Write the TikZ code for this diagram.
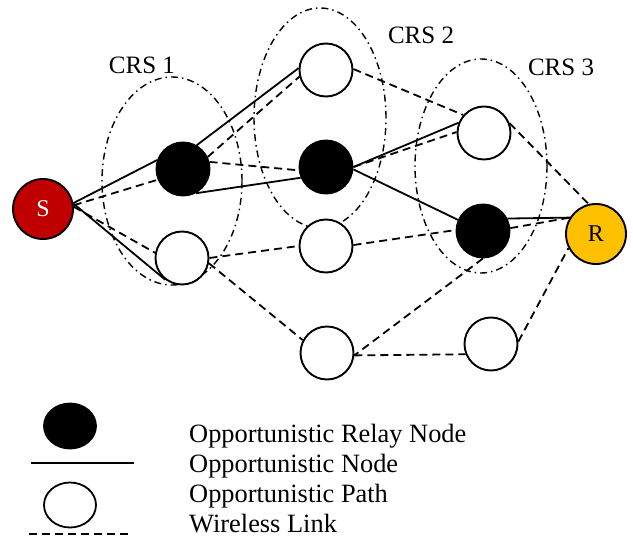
\documentclass[tikz,border=0pt]{standalone}
\usepackage{fontspec}
\setmainfont{Liberation Serif}
\usetikzlibrary{shapes.geometric}
\definecolor{srcred}{RGB}{192,0,0}
\definecolor{dstgold}{RGB}{255,192,0}
\tikzset{
  nd/.style={circle,draw=black,line width=1.9pt,minimum size=53pt,inner sep=0pt},
  relay/.style={nd,fill=black},
  opp/.style={nd,fill=white},
  endpt/.style={nd,minimum size=60pt,font=\fontsize{24}{28}\selectfont},
  solidlink/.style={line width=1.8pt},
  wlink/.style={line width=1.8pt,dash pattern=on 8pt off 5pt},
  crs/.style={line width=1.4pt,dash pattern=on 7pt off 4pt on 1.5pt off 4pt},
  lbl/.style={font=\fontsize{25}{30}\selectfont,anchor=base,inner sep=0pt},
  legtxt/.style={font=\fontsize{26.4}{30}\selectfont,anchor=base west,inner sep=0pt},
  legmark/.style={ellipse,draw=black,line width=1.8pt,minimum width=52pt,minimum height=45pt,inner sep=0pt}
}
\begin{document}
\begin{tikzpicture}[x=1pt,y=-1pt]
\useasboundingbox (0,0) rectangle (633,538);

% cooperative relay sets
\draw[crs] (172,181) ellipse [x radius=70pt, y radius=104pt];
\draw[crs] (320,118) ellipse [x radius=66pt, y radius=110pt];
\draw[crs] (481,166) ellipse [x radius=66pt, y radius=107pt];
\node[lbl] (l1) at (142,73) {CRS 1};
\node[lbl] (l2) at (421,43) {CRS 2};
\node[lbl] (l3) at (561,75) {CRS 3};

% nodes
\node[endpt,fill=srcred,text=white] (S) at (43,209) {S};
\node[endpt,fill=dstgold] (R) at (596,234) {R};
\node[relay] (A1) at (183,169) {};
\node[opp]   (B1) at (182,258) {};
\node[opp]   (C2t) at (326,70) {};
\node[relay] (A2) at (326,167) {};
\node[opp]   (C2m) at (326,246) {};
\node[opp]   (D1) at (327,353) {};
\node[opp]   (C3) at (484,133) {};
\node[relay] (A3) at (483,231) {};
\node[opp]   (D2) at (491,344) {};

% opportunistic paths
\draw[solidlink] (S.11) -- (A1.161);
\draw[solidlink] (A1.60) -- (C2t.176);
\draw[solidlink] (A1.-62) -- (A2.-157);
\draw[solidlink] (S.10) -- (B1.-128);
\draw[solidlink] (A2.0) -- (C3.158);
\draw[solidlink] (A2.-5) -- (A3.156);
\draw[solidlink] (A3.27) -- (R.148);

% wireless links
\draw[wlink] (S.7) -- (A1.-157);
\draw[wlink] (S.4) -- (B1.169);
\draw[wlink] (A1.26) -- (C2t.-166);
\draw[wlink] (A1.15) -- (A2.-173);
\draw[wlink] (B1.0) -- (C2m.180);
\draw[wlink] (B1.-11) -- (D1.152);
\draw[wlink] (C2t.2) -- (C3.139);
\draw[wlink] (A2.0) -- (C3.178);
\draw[wlink] (C2m.2) -- (A3.178);
\draw[wlink] (C3.21) -- (R.104);
\draw[wlink] (A3.6) -- (R.148);
\draw[wlink] (A3.-90) -- (D1.-5);
\draw[wlink] (D1.-5) -- (D2.-158);
\draw[wlink] (D2.5) -- (R.-153);

% legend
\node[legmark,fill=black] (k1) at (70,426) {};
\coordinate (k2a) at (31,463);
\coordinate (k2b) at (134,463);
\draw[solidlink] (k2a) -- (k2b);
\node[legmark,fill=white] (k3) at (70,505) {};
\coordinate (k4a) at (29,534);
\coordinate (k4b) at (128,534);
\draw[wlink] (k4a) -- (k4b);
\node[legtxt] (t1) at (189,442) {Opportunistic Relay Node};
\node[legtxt] (t2) at (189,472) {Opportunistic Node};
\node[legtxt] (t3) at (189,502) {Opportunistic Path};
\node[legtxt] (t4) at (189,532) {Wireless Link};
\end{tikzpicture}
\end{document}
